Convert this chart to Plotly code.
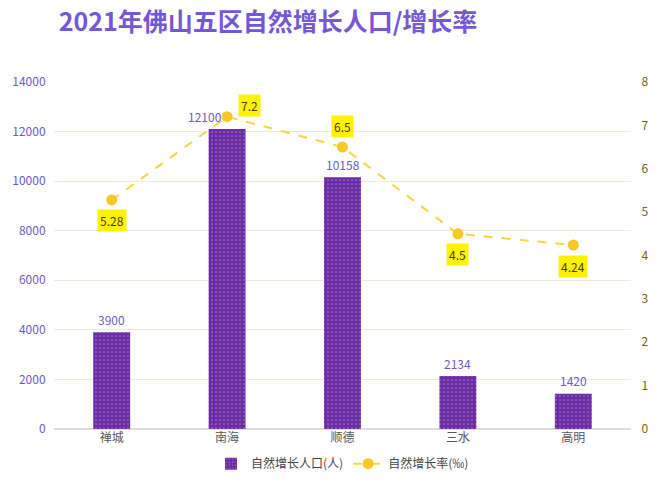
import plotly.graph_objects as go

categories = ["禅城", "南海", "顺德", "三水", "高明"]
population = [3900, 12100, 10158, 2134, 1420]
pop_label_shift = [0, -22, 0, 0, 0]
rate = [5.28, 7.2, 6.5, 4.5, 4.24]
rate_labels = ["5.28", "7.2", "6.5", "4.5", "4.24"]
rate_label_pos = ["below", "aboveright", "above", "below", "below"]
left_ticks = [0, 2000, 4000, 6000, 8000, 10000, 12000, 14000]
left_tick_text = ["0", "2000", "4000", "6000", "8000", "10000", "12000", "14000"]
right_ticks = [0, 1, 2, 3, 4, 5, 6, 7, 8]
right_tick_text = ["0", "1", "2", "3", "4", "5", "6", "7", "8"]

PURPLE = "#6c2ca6"
LABEL_PURPLE = "#6e58c8"
YELLOW_LINE = "#f3d640"
FONT = "Noto Sans CJK SC, Noto Sans, sans-serif"

fig = go.Figure()

fig.add_trace(go.Bar(
    x=categories, y=population, name="自然增长人口(人)",
    width=0.32,
    marker=dict(color=PURPLE, line=dict(width=0),
                pattern=dict(shape=".", fgcolor="rgba(255,255,255,0.7)", bgcolor=PURPLE,
                             size=4, solidity=0.15)),
))

fig.add_trace(go.Scatter(
    x=categories, y=rate, name="自然增长率(‰)", yaxis="y2",
    mode="lines+markers",
    line=dict(color=YELLOW_LINE, width=2, dash="dash"),
    marker=dict(color="#f7c826", size=11),
    cliponaxis=False,
))

for c, v, s in zip(categories, population, pop_label_shift):
    fig.add_annotation(x=c, y=v, yref="y", text=str(v), showarrow=False,
                       xshift=s, yshift=13,
                       font=dict(size=12, color=LABEL_PURPLE, family=FONT))

for c, r, t, p in zip(categories, rate, rate_labels, rate_label_pos):
    if p == "below":
        xs, ys = 0, -21
    elif p == "above":
        xs, ys = 0, 21
    else:
        xs, ys = 22, 11
    fig.add_annotation(x=c, y=r, yref="y2", text=t, showarrow=False,
                       xshift=xs, yshift=ys, bgcolor="#fff200", borderpad=2,
                       font=dict(size=12, color="#4a3c00", family=FONT))

fig.update_layout(
    width=660, height=490,
    margin=dict(l=49, r=25, t=82, b=58),
    paper_bgcolor="white", plot_bgcolor="white",
    font=dict(family=FONT),
    title=dict(text="<b>2021年佛山五区自然增长人口/增长率</b>", x=268/660, xanchor="center",
               y=1 - 22/490, yanchor="middle",
               font=dict(size=25, color="#7457d6", family=FONT)),
    xaxis=dict(showgrid=False, showline=False, ticks="",
               tickfont=dict(size=12, color="#555555", family=FONT)),
    yaxis=dict(range=[0, 14000], tickvals=left_ticks, ticktext=left_tick_text,
               showgrid=True, gridcolor="#efe6dc",
               zeroline=True, zerolinecolor="#e0dcd8",
               ticks="outside", ticklen=5, tickcolor="rgba(0,0,0,0)",
               tickfont=dict(size=12, color=LABEL_PURPLE, family=FONT)),
    yaxis2=dict(range=[0, 8], tickvals=right_ticks, ticktext=right_tick_text,
                overlaying="y", side="right",
                showgrid=False, zeroline=False,
                ticks="outside", ticklen=7, tickcolor="rgba(0,0,0,0)",
                tickfont=dict(size=12, color="#7a5f10", family=FONT)),
    legend=dict(orientation="h", x=0.5, xanchor="center", y=-0.1, yanchor="middle",
                font=dict(size=12, color="#444444", family=FONT)),
    showlegend=True,
)

fig.write_html("out.html", config={"displayModeBar": False},
               post_script="document.body.style.margin='0';document.body.style.overflow='hidden';")
